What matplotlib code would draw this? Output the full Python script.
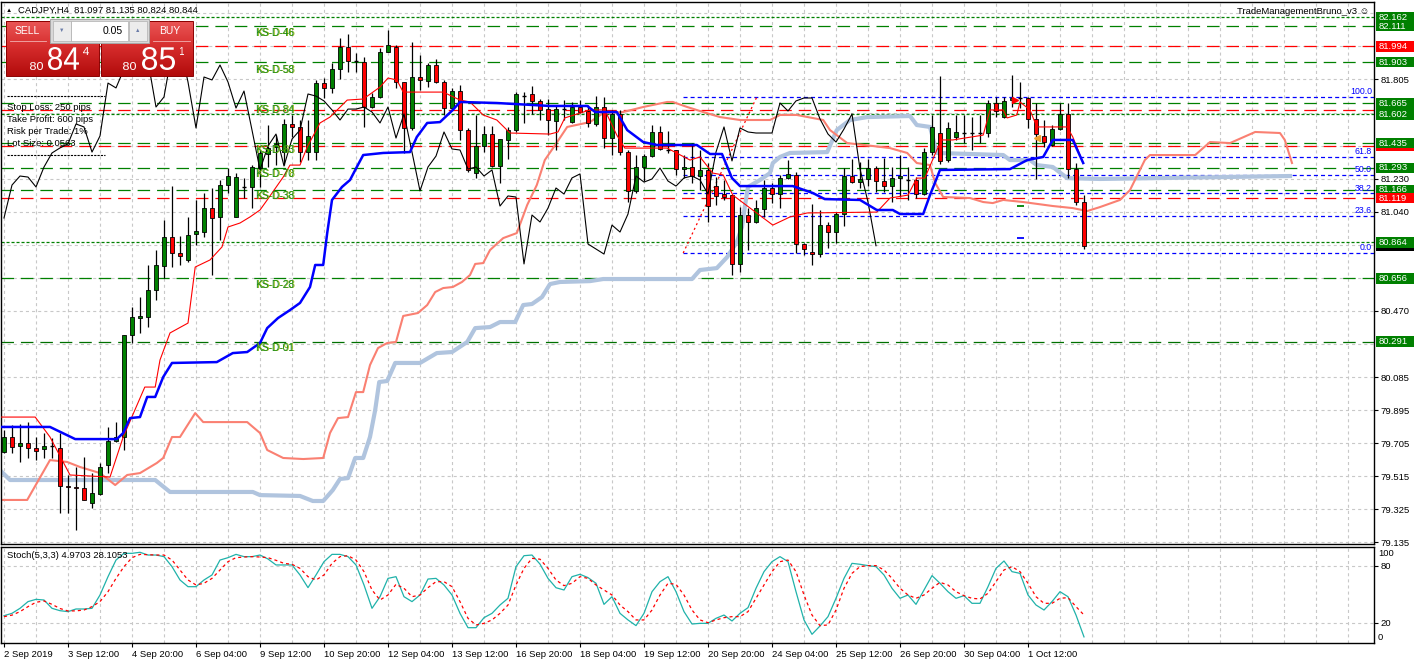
import numpy as np
import matplotlib
matplotlib.use("Agg")
import matplotlib.pyplot as plt
from matplotlib.patches import Rectangle, PathPatch
from matplotlib.textpath import TextPath
from matplotlib.font_manager import FontProperties
from matplotlib.transforms import Affine2D
from matplotlib.colors import LinearSegmentedColormap

plt.rcParams['font.family'] = ['Liberation Sans', 'DejaVu Sans']
plt.rcParams['lines.scale_dashes'] = False

# ---------------- data ----------------
opens = [79.654, 79.741, 79.689, 79.706, 79.677, 79.672, 79.689, 79.677, 79.458, 79.452,
         79.447, 79.360, 79.412, 79.579, 79.718, 79.741, 80.329, 80.427, 80.433, 80.589,
         80.727, 80.894, 80.802, 80.762, 80.912, 80.923, 81.061, 81.010, 81.194, 81.010,
         81.183, 81.183, 81.292, 81.373, 81.413, 81.384, 81.546, 81.529, 81.384, 81.384,
         81.782, 81.754, 81.863, 81.990, 81.909, 81.903, 81.644, 81.702, 81.961, 81.990,
         81.788, 81.523, 81.817, 81.794, 81.886, 81.788, 81.638, 81.736, 81.511, 81.263,
         81.419, 81.488, 81.304, 81.454, 81.511, 81.707, 81.719, 81.679, 81.632, 81.563,
         81.632, 81.557, 81.644, 81.621, 81.546, 81.644, 81.465, 81.604, 81.384, 81.160,
         81.298, 81.361, 81.500, 81.396, 81.396, 81.286, 81.298, 81.246, 81.281, 81.188,
         81.142, 81.137, 80.739, 81.021, 80.981, 81.056, 81.177, 81.142, 81.235, 81.252,
         80.854, 80.808, 80.796, 80.963, 80.923, 81.027, 81.246, 81.211, 81.229, 81.292,
         81.217, 81.188, 81.235, 81.223, 81.223, 81.142, 81.384, 81.494, 81.338, 81.471,
         81.494, 81.494, 81.494, 81.494, 81.667, 81.586, 81.684, 81.696, 81.696, 81.575,
         81.477, 81.425, 81.517, 81.604, 81.286, 81.097]
highs = [79.781, 79.810, 79.816, 79.827, 79.741, 79.764, 79.735, 79.764, 79.522, 79.568,
         79.626, 79.533, 79.591, 79.799, 79.827, 80.329, 80.491, 80.548, 80.733, 80.819,
         80.992, 81.188, 80.900, 81.010, 81.108, 81.148, 81.177, 81.223, 81.292, 81.263,
         81.235, 81.310, 81.396, 81.540, 81.482, 81.575, 81.598, 81.569, 81.569, 81.800,
         81.811, 81.898, 82.042, 82.065, 81.955, 81.932, 81.725, 81.984, 82.088, 82.001,
         81.788, 82.019, 81.944, 81.898, 81.921, 81.800, 81.754, 81.771, 81.523, 81.598,
         81.534, 81.534, 81.459, 81.529, 81.730, 81.730, 81.765, 81.690, 81.690, 81.655,
         81.684, 81.673, 81.684, 81.655, 81.707, 81.702, 81.627, 81.627, 81.396, 81.367,
         81.373, 81.540, 81.534, 81.506, 81.396, 81.367, 81.436, 81.396, 81.321, 81.240,
         81.223, 81.137, 81.067, 81.061, 81.108, 81.223, 81.206, 81.252, 81.338, 81.269,
         80.860, 81.085, 81.050, 80.981, 81.038, 81.292, 81.344, 81.327, 81.344, 81.304,
         81.350, 81.298, 81.367, 81.298, 81.240, 81.408, 81.598, 81.823, 81.557, 81.598,
         81.598, 81.586, 81.598, 81.684, 81.702, 81.702, 81.828, 81.788, 81.702, 81.667,
         81.569, 81.540, 81.667, 81.667, 81.321, 81.135]
lows = [79.649, 79.649, 79.597, 79.620, 79.608, 79.620, 79.620, 79.303, 79.303, 79.204,
        79.377, 79.331, 79.406, 79.533, 79.712, 79.666, 80.283, 80.341, 80.375, 80.531,
        80.658, 80.721, 80.733, 80.750, 80.848, 80.894, 80.675, 80.877, 81.148, 81.010,
        81.119, 81.061, 81.183, 81.298, 81.310, 81.310, 81.471, 81.327, 81.338, 81.338,
        81.696, 81.725, 81.805, 81.846, 81.846, 81.529, 81.638, 81.696, 81.961, 81.754,
        81.379, 81.511, 81.742, 81.759, 81.782, 81.598, 81.638, 81.454, 81.269, 81.235,
        81.384, 81.298, 81.206, 81.344, 81.500, 81.552, 81.604, 81.569, 81.482, 81.396,
        81.569, 81.552, 81.609, 81.529, 81.534, 81.408, 81.367, 81.367, 81.096, 81.148,
        81.217, 81.356, 81.396, 81.379, 81.252, 81.235, 81.206, 81.165, 80.981, 81.079,
        81.108, 80.675, 80.692, 80.819, 80.975, 81.010, 81.090, 81.061, 81.229, 80.802,
        80.790, 80.733, 80.779, 80.831, 80.860, 80.958, 81.206, 81.177, 81.188, 81.154,
        81.154, 81.096, 81.125, 81.108, 81.119, 81.136, 81.367, 81.315, 81.327, 81.454,
        81.436, 81.396, 81.436, 81.471, 81.586, 81.580, 81.644, 81.638, 81.523, 81.229,
        81.413, 81.419, 81.511, 81.235, 81.079, 80.824]
closes = [79.741, 79.683, 79.706, 79.677, 79.660, 79.689, 79.689, 79.458, 79.452, 79.447,
          79.377, 79.418, 79.568, 79.718, 79.741, 80.329, 80.433, 80.439, 80.589, 80.733,
          80.894, 80.802, 80.785, 80.906, 80.929, 81.061, 81.004, 81.194, 81.246, 81.240,
          81.183, 81.298, 81.379, 81.408, 81.431, 81.546, 81.529, 81.384, 81.477, 81.782,
          81.754, 81.863, 81.990, 81.909, 81.909, 81.644, 81.702, 81.961, 82.001, 81.788,
          81.523, 81.817, 81.800, 81.886, 81.788, 81.638, 81.736, 81.511, 81.281, 81.419,
          81.488, 81.304, 81.459, 81.511, 81.719, 81.707, 81.679, 81.627, 81.569, 81.632,
          81.632, 81.644, 81.615, 81.552, 81.644, 81.465, 81.604, 81.384, 81.160, 81.298,
          81.361, 81.500, 81.402, 81.396, 81.286, 81.298, 81.246, 81.281, 81.073, 81.131,
          81.125, 80.739, 81.021, 80.981, 81.061, 81.177, 81.142, 81.235, 81.258, 80.854,
          80.825, 80.796, 80.963, 80.923, 81.027, 81.246, 81.211, 81.229, 81.292, 81.217,
          81.188, 81.235, 81.246, 81.223, 81.142, 81.384, 81.529, 81.333, 81.523, 81.500,
          81.494, 81.494, 81.494, 81.667, 81.621, 81.679, 81.696, 81.696, 81.575, 81.488,
          81.442, 81.517, 81.604, 81.286, 81.096, 80.844]

# ichimoku lines, read as (bar, price) vertices
tenkan_bar = [-0.5, 3.9, 5.75, 8.25, 13.25, 14.9, 17.6, 18.9, 19.5, 20.75, 23, 23.9, 25.75, 27.25,
              28, 29.5, 30.75, 32, 32.9, 34.9, 35.75, 37, 37.9, 39.5, 40.75, 42.9, 44.9, 47, 48,
              49.1, 49.9, 54.9, 57, 58.25, 59.9, 61.6, 63.25, 68.25, 69.25, 70.1, 73.25, 75.1,
              76.6, 77.6, 82.9, 85.75, 87, 88.6, 89.9, 91.1, 96.1, 98.25, 100.4, 109.1, 110.75,
              113, 114.1, 115.1, 116.6, 117.25, 118.6, 122.4, 123.25, 124.9, 125.4, 126.6, 127,
              128.25, 129.1, 132.9, 133.6, 134.9]
tenkan_val = [79.856, 79.856, 79.741, 79.522, 79.510, 79.741, 80.029, 80.029, 80.185, 80.341,
              80.398, 80.721, 80.762, 80.837, 80.952, 80.975, 81.010, 81.050, 81.108, 81.240,
              81.309, 81.309, 81.413, 81.552, 81.586, 81.684, 81.690, 81.759, 81.811, 81.800,
              81.730, 81.730, 81.684, 81.673, 81.598, 81.569, 81.494, 81.488, 81.500, 81.581,
              81.627, 81.627, 81.482, 81.407, 81.407, 81.338, 81.356, 81.263, 81.252, 81.136,
              80.963, 81.010, 81.033, 81.038, 81.119, 81.136, 81.234, 81.234, 81.396, 81.454,
              81.454, 81.482, 81.627, 81.627, 81.581, 81.598, 81.673, 81.627, 81.529, 81.529,
              81.471, 81.321]
kijun_bar = [-0.5, 5.75, 8.9, 14.1, 14.9, 15.75, 17, 17.9, 18.9, 19.9, 21, 26.6, 28.6, 30.4, 32,
             32.9, 34.25, 35.75, 37, 38.25, 38.9, 39.9, 40.4, 41, 42.25, 43.25, 44.1, 44.9, 47.4,
             50.75, 51.6, 52.9, 54.5, 56.1, 57, 61.6, 68.25, 72.9, 73.9, 76.6, 77.9, 79.9, 81.6,
             86.6, 88.25, 89.75, 91, 92, 98.6, 101.1, 102.6, 107, 109.1, 111.1, 112, 114.9,
             115.75, 117, 125.75, 127.9, 129.9, 131.1, 133.6, 134.9]
kijun_val = [79.799, 79.799, 79.729, 79.729, 79.764, 79.850, 79.856, 79.972, 79.972, 80.087,
             80.168, 80.173, 80.225, 80.231, 80.283, 80.369, 80.427, 80.473, 80.514, 80.606,
             80.733, 80.733, 80.917, 81.108, 81.183, 81.223, 81.298, 81.367, 81.379, 81.384,
             81.471, 81.552, 81.557, 81.627, 81.673, 81.667, 81.650, 81.650, 81.615, 81.615,
             81.511, 81.442, 81.425, 81.425, 81.373, 81.373, 81.234, 81.188, 81.188, 81.148,
             81.113, 81.108, 81.050, 81.050, 81.027, 81.027, 81.136, 81.281, 81.286, 81.338,
             81.356, 81.454, 81.454, 81.321]
span_a_bar = [-0.5, 2.9, 5.75, 7.9, 9.5, 12, 13.9, 15.4, 17, 19.1, 19.9, 21, 22, 23.9, 24.9, 30.4,
              32, 32.9, 34.9, 37.4, 39.9, 40.75, 41.75, 43, 44, 44.9, 45.75, 46.75, 47.9, 49,
              49.9, 51.75, 52.9, 53.9, 54.9, 56.1, 57.25, 58.25, 58.9, 59.9, 60.75, 62.4, 64.1,
              65.4, 66.6, 67.6, 68.9, 70.4, 73.25, 74.9, 77.4, 79.9, 82.9, 83.6, 85.4, 87.4,
              89.5, 92, 95.75, 97, 99.1, 102.4, 103.25, 105.4, 108.6, 110.75, 112.9, 114.1,
              115.75, 116.4, 117.4, 120.75, 122.4, 123.6, 124.9, 127.4, 131.1, 133.6, 135.4,
              137, 139.5, 140.75, 142.6, 143.25, 148.9, 150.75, 153.25, 156.4, 159.5, 160.1, 161]
span_a_val = [79.378, 79.378, 79.608, 79.597, 79.568, 79.533, 79.464, 79.522, 79.533, 79.591,
              79.620, 79.741, 79.741, 79.879, 79.827, 79.827, 79.764, 79.666, 79.620, 79.614,
              79.620, 79.764, 79.850, 79.856, 80.000, 80.000, 80.156, 80.254, 80.283, 80.289,
              80.439, 80.456, 80.502, 80.577, 80.600, 80.606, 80.635, 80.675, 80.739, 80.744,
              80.819, 80.888, 80.917, 81.079, 81.194, 81.338, 81.425, 81.529, 81.557, 81.609,
              81.615, 81.644, 81.673, 81.673, 81.644, 81.615, 81.586, 81.569, 81.569, 81.598,
              81.598, 81.569, 81.511, 81.436, 81.419, 81.407, 81.379, 81.321, 81.309, 81.206,
              81.125, 81.119, 81.096, 81.090, 81.108, 81.096, 81.073, 81.061, 81.044, 81.067,
              81.108, 81.165, 81.338, 81.367, 81.367, 81.442, 81.436, 81.500, 81.494, 81.454,
              81.321]
span_b_bar = [-0.5, 0.75, 18.9, 20.75, 31.1, 32, 37, 38.6, 39.9, 41.1, 42, 43, 43.9, 44.9, 45.75,
              46.4, 46.9, 47.9, 48.9, 52, 54.1, 56, 57.9, 58.9, 60.75, 62, 63.9, 64.9, 66, 67.25,
              68.25, 69.5, 73.25, 74.9, 86, 87, 89.1, 90.4, 91.6, 92.25, 92.6, 93, 94.5, 95.75,
              96.1, 97, 98.25, 102.9, 104.1, 105.75, 107.9, 113.25, 114.1, 115.75, 116.6, 124.9,
              125.75, 128.25, 129.1, 131.1, 132.9, 137, 160.75]
span_b_val = [79.550, 79.493, 79.493, 79.424, 79.424, 79.406, 79.401, 79.372, 79.372, 79.435,
              79.499, 79.504, 79.620, 79.620, 79.741, 79.897, 80.058, 80.064, 80.168, 80.168,
              80.225, 80.231, 80.289, 80.369, 80.375, 80.404, 80.404, 80.502, 80.508, 80.548,
              80.623, 80.635, 80.640, 80.652, 80.652, 80.704, 80.715, 80.779, 80.865, 80.952,
              81.067, 81.183, 81.223, 81.263, 81.321, 81.356, 81.379, 81.384, 81.511, 81.569,
              81.586, 81.592, 81.540, 81.529, 81.379, 81.367, 81.338, 81.338, 81.309, 81.298,
              81.234, 81.229, 81.246]
chikou_shift = 26

# stochastic (5,3,3)
stoch_main = [27.4, 29.9, 35.2, 42.3, 44.7, 44.0, 35.2, 32.7, 31.7, 34.5, 34.5, 35.2, 49.3, 68.7,
              86.3, 93.4, 93.4, 94.5, 91.6, 91.6, 89.9, 79.3, 65.2, 58.1, 58.1, 65.2, 70.5, 86.3,
              88.8, 92.3, 89.9, 89.9, 91.6, 87.4, 81.1, 81.1, 81.1, 70.5, 57.1, 70.5, 84.6, 92.3,
              92.3, 89.9, 81.1, 59.9, 35.2, 47.5, 66.9, 68.7, 47.5, 42.3, 49.3, 66.2, 66.9, 59.9,
              49.3, 29.9, 14.7, 14.7, 25.3, 29.9, 38.7, 45.8, 79.3, 90.9, 91.6, 82.0, 66.9, 57.0,
              54.6, 68.7, 71.2, 67.7, 61.7, 39.4, 47.5, 29.9, 22.9, 16.9, 29.9, 52.8, 63.4, 68.7,
              52.8, 31.7, 18.6, 19.3, 19.3, 24.6, 28.1, 21.8, 29.9, 35.9, 56.4, 74.0, 84.6, 89.9,
              84.6, 52.8, 22.9, 7.7, 16.5, 26.4, 45.8, 66.9, 82.8, 81.8, 80.4, 79.3, 70.5, 56.4,
              45.8, 49.3, 39.4, 54.6, 69.8, 61.7, 52.8, 45.8, 48.6, 40.5, 40.5, 58.1, 77.5, 85.3,
              74.0, 72.2, 49.3, 38.7, 33.4, 42.3, 52.8, 47.5, 28.1, 4.97]
stoch_signal = [26.4, 28.0, 31.7, 37.0, 41.6, 43.0, 39.4, 35.0, 32.4, 32.5, 33.4, 37.0, 42.3, 52.8,
                66.9, 79.3, 88.8, 92.3, 92.0, 91.6, 91.6, 86.3, 75.8, 65.2, 59.9, 61.7, 66.9, 75.8,
                84.6, 88.8, 89.5, 89.9, 89.5, 88.8, 86.0, 82.8, 81.8, 77.5, 68.7, 65.2, 70.5, 82.8,
                89.9, 90.9, 86.3, 74.0, 54.6, 44.0, 49.3, 60.6, 56.4, 47.5, 49.3, 57.1, 63.4, 63.4,
                58.1, 42.3, 24.6, 17.6, 19.3, 22.9, 29.9, 38.7, 59.9, 77.5, 88.1, 87.2, 77.5, 65.2,
                59.2, 61.7, 68.7, 66.9, 59.9, 54.6, 49.3, 38.7, 31.7, 22.9, 22.9, 33.4, 49.3, 61.7,
                60.6, 49.3, 33.4, 22.9, 20.0, 22.9, 25.3, 26.4, 26.4, 31.7, 45.8, 59.9, 74.0, 84.6,
                86.3, 74.0, 49.3, 28.1, 16.9, 17.6, 33.4, 56.4, 72.2, 79.3, 80.4, 80.4, 75.8, 66.9,
                56.4, 49.3, 45.8, 49.3, 56.4, 62.7, 59.9, 52.8, 48.6, 45.8, 45.1, 51.1, 63.4, 75.8,
                79.3, 74.0, 61.7, 47.5, 40.5, 40.5, 45.8, 46.5, 37.0, 28.1]

# horizontal objects
level_prices = [82.162, 82.111, 81.994, 81.903, 81.665, 81.627, 81.602, 81.435, 81.421,
                81.293, 81.166, 81.119, 80.864, 80.656, 80.291]
level_kinds = ['gdot', 'g', 'r', 'g', 'g', 'r', 'gdot', 'g', 'r', 'g', 'g', 'r', 'gdot', 'g', 'dg']
box_prices = [82.162, 82.111, 81.994, 81.903, 81.665, 81.602, 81.421, 81.435, 81.293, 81.166,
              81.119, 80.844, 80.864, 80.656, 80.291]
box_colors = ['#008000', '#008000', '#ff0000', '#008000', '#008000', '#008000', '#ff0000',
              '#008000', '#008000', '#008000', '#ff0000', '#000000', '#008000', '#008000', '#008000']
box_text = [True, True, True, True, True, True, False, True, True, True, True, False, True, True, True]
fib_low, fib_high = 80.802, 81.702
fib_levels = [0.0, 23.6, 38.2, 50.0, 61.8, 100.0]
fib_start_bar = 84.9
fib_line_end_bar = 94.1
ks_labels = ['KS-D-46', 'KS-D-58', 'KS-D-84', 'KS-D-63', 'KS-D-70', 'KS-D-38', 'KS-D-28', 'KS-D-01']
ks_overlay = ['KS-D-46', 'KS-D-53', 'KS-D-84', 'KS-D-83', 'KS-D-78', 'KS-D-33', 'KS-D-23', 'KS-D-91']
ks_prices = [82.071, 81.857, 81.627, 81.396, 81.258, 81.131, 80.617, 80.254]
ks_bar = 31.4

price_ticks = [81.805, 81.230, 81.040, 80.470, 80.085, 79.895, 79.705, 79.515, 79.325, 79.135]
grid_prices = [79.135, 79.325, 79.515, 79.705, 79.895, 80.085, 80.280, 80.470, 80.660, 80.850,
               81.040, 81.230, 81.420, 81.610, 81.805, 81.995, 82.185]
date_labels = ['2 Sep 2019', '3 Sep 12:00', '4 Sep 20:00', '6 Sep 04:00', '9 Sep 12:00',
               '10 Sep 20:00', '12 Sep 04:00', '13 Sep 12:00', '16 Sep 20:00', '18 Sep 04:00',
               '19 Sep 12:00', '20 Sep 20:00', '24 Sep 04:00', '25 Sep 12:00', '26 Sep 20:00',
               '30 Sep 04:00', '1 Oct 12:00']
date_bars = list(range(0, 8 * len(date_labels), 8))

# ---------------- figure ----------------
W, H = 1415, 664
fig = plt.figure(figsize=(W / 100, H / 100), dpi=100)
fig.patch.set_facecolor('white')

L, R = 1, 1374
ax = fig.add_axes([L / W, 1 - 544 / H, (R - L) / W, (544 - 2) / H])
ax2 = fig.add_axes([L / W, 1 - 643 / H, (R - L) / W, (643 - 547) / H])
XMIN, XMAX = -0.375, 171.25
for a in (ax, ax2):
    a.set_xlim(XMIN, XMAX)
    for s in a.spines.values():
        s.set_color('black')
        s.set_linewidth(1.0)
ax.set_ylim(79.124, 82.2495)
ax2.set_ylim(-1.5, 100.1)

GRID = dict(color='#c8c8c8', lw=0.8, dashes=(2.2, 2.2), zorder=0)
for b in range(0, 172, 4):
    ax.axvline(b, **GRID)
    ax2.axvline(b, **GRID)
for gp in grid_prices:
    ax.axhline(gp, **GRID)
for gv in (80, 20):
    ax2.axhline(gv, **GRID)

# levels
for p, k in zip(level_prices, level_kinds):
    if k == 'gdot':
        ax.axhline(p, color='#008000', lw=0.9, dashes=(2.2, 1.4), zorder=1)
    elif k == 'r':
        ax.axhline(p, color='#ff0000', lw=0.9, dashes=(9, 5), zorder=1)
    elif k == 'dg':
        ax.axhline(p, color='#007000', lw=0.9, dashes=(9, 5), zorder=1)
    else:
        ax.axhline(p, color='#008000', lw=0.9, dashes=(9, 5), zorder=1)

# fibonacci
for lv in fib_levels:
    fp = fib_low + (fib_high - fib_low) * lv / 100
    ax.hlines(fp, fib_start_bar, XMAX, color='#0000ff', lw=0.9, linestyles=(0, (2.9, 2.2)), zorder=1)
    ax.text(171.0, fp + 0.004, '%.1f' % lv, color='#0000ff', fontsize=6.3, ha='right', va='bottom', zorder=6)
ax.plot([fib_start_bar, fib_line_end_bar], [fib_low, fib_high], color='#ff0000', lw=0.9,
        dashes=(1.5, 2.2), zorder=2)

# cloud
ax.plot(span_b_bar, span_b_val, color='#b0c4de', lw=3.0, zorder=2, solid_joinstyle='round')
ax.plot(span_a_bar, span_a_val, color='#fa8072', lw=1.5, zorder=2)

# candles
idx = np.arange(len(closes))
o = np.array(opens); h = np.array(highs); l = np.array(lows); c = np.array(closes)
ax.vlines(idx, l, h, color='black', lw=0.9, zorder=3)
body_lo = np.minimum(o, c)
body_h = np.abs(c - o)
up = c > o
dn = c < o
ax.bar(idx[up], body_h[up], bottom=body_lo[up], width=0.62, color='#008000',
       edgecolor='black', linewidth=0.6, zorder=3.5)
ax.bar(idx[dn], body_h[dn], bottom=body_lo[dn], width=0.62, color='#ff0000',
       edgecolor='black', linewidth=0.6, zorder=3.5)
doji = ~(up | dn)
ax.hlines(c[doji], idx[doji] - 0.31, idx[doji] + 0.31, color='black', lw=1.0, zorder=3.5)

# ichimoku lines
ax.plot(idx[chikou_shift:] - chikou_shift, c[chikou_shift:], color='black', lw=0.8, zorder=4)
ax.plot(tenkan_bar, tenkan_val, color='#ff0000', lw=0.8, zorder=4)
ax.plot(kijun_bar, kijun_val, color='#0000ff', lw=1.8, zorder=4)

# small chart objects
ax.hlines(81.073, 126.6, 127.5, color='#008000', lw=1.3, zorder=5)
ax.hlines(80.888, 126.6, 127.5, color='#0000ff', lw=1.3, zorder=5)
ax.plot([129.1], [81.465], marker='<', ms=5, color='#f0a030', zorder=5)
ax.plot([126.4], [81.684], marker='>', ms=4, color='#ff0000', zorder=5)

# KS labels
for t1, t2, p in zip(ks_labels, ks_overlay, ks_prices):
    ax.text(ks_bar + 0.06, p, t2, color='#8cb400', fontsize=7.3, va='center', ha='left', zorder=6)
    ax.text(ks_bar, p, t1, color='#1a8a1a', fontsize=7.3, va='center', ha='left', zorder=6)

# price axis
ax.yaxis.tick_right()
ax.set_yticks(price_ticks)
ax.set_yticklabels(['%.3f' % v for v in price_ticks])
ax.tick_params(axis='y', length=3, width=0.8, pad=1.5, labelsize=6.8, direction='out')
ax.set_xticks([])

ytr = ax.get_yaxis_transform()
box_h = 10.5 / 173.4
bx0 = (1375.5 - L) / (R - L)
bw = 38 / (R - L)
for p, col, show in zip(box_prices, box_colors, box_text):
    ax.add_patch(Rectangle((bx0, p - box_h / 2), bw, box_h, transform=ytr, facecolor=col,
                           edgecolor='none', clip_on=False, zorder=7))
    if show:
        ax.text((1379 - L) / (R - L), p, '%.3f' % p, transform=ytr, color='white', fontsize=6.8,
                va='center', ha='left', clip_on=False, zorder=8)

# stochastic
ax2.plot(idx, stoch_main, color='#20b2aa', lw=0.9, zorder=3)
ax2.plot(idx, stoch_signal, color='#ff0000', lw=0.9, dashes=(2.2, 2.2), zorder=3)
ax2.yaxis.tick_right()
ax2.set_yticks([80, 20])
ax2.set_yticklabels(['80', '20'])
ax2.tick_params(axis='y', length=3, width=0.8, pad=1.5, labelsize=6.8, direction='out')
ax2.set_xticks(date_bars)
ax2.set_xticklabels(date_labels)
ax2.tick_params(axis='x', length=3, width=0.8, pad=2, labelsize=6.8, direction='out')
for lab in ax2.get_xticklabels():
    lab.set_horizontalalignment('left')

# ---------------- overlay (pixel coords) ----------------
ov = fig.add_axes([0, 0, 1, 1])
ov.set_xlim(0, W)
ov.set_ylim(H, 0)
ov.axis('off')
ov.set_zorder(10)

ov.text(1378, 553, '100', fontsize=6.8, va='center', ha='left')
ov.text(1378, 637, '0', fontsize=6.8, va='center', ha='left')
ov.text(7, 556, 'Stoch(5,3,3) 4.9703 28.1053', fontsize=6.8, va='center', ha='left')

ov.text(9, 10, '\u25b2', fontsize=4.5, va='center', ha='center')
ov.text(18, 10, 'CADJPY,H4  81.097 81.135 80.824 80.844', fontsize=6.8, va='center', ha='left')
ov.text(1369, 11, 'TradeManagementBruno_v3 \u263a', fontsize=6.8, va='center', ha='right')

info_lines = ['Stop Loss: 250 pips', 'Take Profit: 600 pips', 'Risk per Trade: 1%', 'Lot Size: 0.0563']
for k, s in enumerate(info_lines):
    ov.text(7, 107 + 12 * k, s, fontsize=6.8, va='center', ha='left')
for yy in (96, 155):
    ov.plot([7, 105], [yy, yy], color='black', lw=0.8, dashes=(1.6, 0.8))

# trade panel
cmap = LinearSegmentedColormap.from_list('btn', ['#ea5555', '#d42a2a', '#b20c0c'])
grad = np.linspace(0, 1, 64).reshape(-1, 1)
for x0, x1 in ((6, 99), (101, 193)):
    ov.imshow(grad, cmap=cmap, extent=(x0, x1, 76, 21), origin='upper', aspect='auto', zorder=11)
    ov.add_patch(Rectangle((x0, 21), x1 - x0, 55, facecolor='none', edgecolor='#8b0000', lw=0.7, zorder=12))
ov.add_patch(Rectangle((50, 19), 99, 24, facecolor='#d8d8d8', edgecolor='#a8a8a8', lw=0.7, zorder=12))
ov.add_patch(Rectangle((71, 21), 57, 20, facecolor='white', edgecolor='#b0b0b0', lw=0.5, zorder=13))
for sx in (53, 129):
    ov.add_patch(Rectangle((sx, 21), 18, 20, facecolor='#ececec', edgecolor='#b0b0b0', lw=0.5, zorder=13))
ov.text(62, 30.5, '\u25bc', fontsize=4, color='#6a7ca8', ha='center', va='center', zorder=14)
ov.text(138, 30.5, '\u25b2', fontsize=4, color='#6a7ca8', ha='center', va='center', zorder=14)
ov.text(123, 30.5, '0.05', fontsize=7.5, ha='right', va='center', zorder=14)
ov.text(27, 31.5, 'SELL', fontsize=7.5, color='white', ha='center', va='center', zorder=14)
ov.text(170, 31.5, 'BUY', fontsize=7.5, color='white', ha='center', va='center', zorder=14)
ov.plot([10, 46], [41, 41], color='#f3b0b0', lw=0.6, zorder=14)
ov.plot([153, 190], [41, 41], color='#f3b0b0', lw=0.6, zorder=14)

fp_big = FontProperties(family='Liberation Sans')


def scaled_text(s, x0, ybase, w, hgt):
    tp = TextPath((0, 0), s, size=1, prop=fp_big)
    bb = tp.get_extents()
    tr = Affine2D().translate(-bb.x0, -bb.y0).scale(w / bb.width, -hgt / bb.height).translate(x0, ybase)
    ov.add_patch(PathPatch(tr.transform_path(tp), facecolor='white', edgecolor='none', zorder=14))


scaled_text('80', 30, 70, 13, 8)
scaled_text('84', 48, 70, 31, 23)
scaled_text('4', 83, 55, 6, 8)
scaled_text('80', 123, 70, 13, 8)
scaled_text('85', 142, 70, 33, 23)
scaled_text('1', 180, 55, 4, 8)

fig.savefig('out.png', dpi=100)
